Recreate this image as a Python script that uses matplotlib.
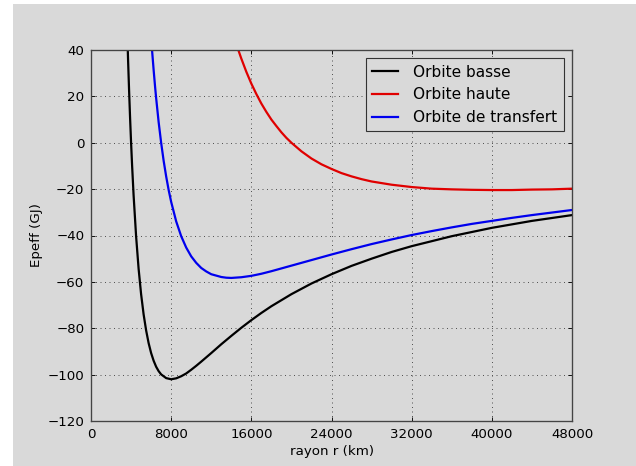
import matplotlib.pyplot as plt
from matplotlib.patches import Rectangle

# values (r in km, Epeff in GJ)
r_basse = [3600, 3700, 3800, 3900, 4000, 4100, 4250, 4500, 4750, 5000, 5250, 5500,
           5750, 6000, 6250, 6500, 6750, 7000, 7500, 8000, 8500, 9000, 9500, 10000,
           10500, 11000, 12000, 13000, 14000, 15000, 16000, 17000, 18000, 20000,
           22000, 24000, 26000, 28000, 30000, 32000, 36000, 40000, 44000, 48000]
e_basse = [50.4, 35.7, 22.6, 10.7, 0.0, -9.7, -22.6, -40.3, -54.3, -65.3, -74.0, -80.9,
           -86.4, -90.7, -94.0, -96.6, -98.5, -99.9, -101.5, -102.0, -101.6, -100.7, -99.5, -97.9,
           -96.2, -94.4, -90.7, -86.9, -83.3, -79.8, -76.5, -73.4, -70.5, -65.3,
           -60.7, -56.7, -53.1, -50.0, -47.1, -44.6, -40.3, -36.7, -33.7, -31.2]

r_haute = [14500, 14750, 15000, 15500, 16000, 16500, 17000, 17500, 18000, 18500, 19000,
           19500, 20000, 21000, 22000, 23000, 24000, 25000, 26000, 27000, 28000, 30000,
           32000, 34000, 36000, 38000, 40000, 42000, 44000, 46000, 48000]
e_haute = [42.7, 39.4, 36.3, 30.6, 25.5, 21.0, 16.9, 13.3, 10.0, 7.2, 4.5,
           2.1, 0.0, -3.7, -6.8, -9.3, -11.3, -13.1, -14.5, -15.7, -16.7, -18.1,
           -19.1, -19.8, -20.1, -20.3, -20.4, -20.4, -20.2, -20.1, -19.8]

r_transfert = [5900, 6000, 6100, 6250, 6400, 6500, 6750, 7000, 7250, 7500, 7750, 8000,
               8500, 9000, 9500, 10000, 10500, 11000, 11500, 12000, 13000, 13500, 14000,
               15000, 16000, 17000, 18000, 20000, 22000, 24000, 26000, 28000, 30000,
               32000, 34000, 36000, 38000, 40000, 42000, 44000, 46000, 48000]
e_transfert = [51.6, 45.3, 39.5, 31.4, 23.9, 19.3, 8.9, 0.0, -7.8, -14.5, -20.4, -25.5,
               -33.9, -40.3, -45.2, -49.0, -51.8, -54.0, -55.5, -56.7, -57.9, -58.2, -58.3,
               -58.0, -57.4, -56.5, -55.4, -53.0, -50.6, -48.2, -45.9, -43.7, -41.7,
               -39.8, -38.1, -36.5, -35.0, -33.7, -32.4, -31.2, -30.1, -29.0]

x_ticks = [0, 8000, 16000, 24000, 32000, 40000, 48000]
y_ticks = [-120, -100, -80, -60, -40, -20, 0, 20, 40]

bg = '#d9d9d9'
fig = plt.figure(figsize=(7.95, 5.825), dpi=80, facecolor=bg)
# white margin of the screenshot on the left and top
fig.patches.append(Rectangle((0, 0), 13 / 636, 1, transform=fig.transFigure,
                             facecolor='white', edgecolor='none', zorder=-1))
fig.patches.append(Rectangle((0, 1 - 4 / 466), 1, 4 / 466, transform=fig.transFigure,
                             facecolor='white', edgecolor='none', zorder=-1))

ax = fig.add_axes([91 / 636, 1 - 421 / 466, 481 / 636, 371 / 466], facecolor=bg)

ax.plot(r_basse, e_basse, color='k', linewidth=2, label='Orbite basse')
ax.plot(r_haute, e_haute, color='#e00000', linewidth=2, label='Orbite haute')
ax.plot(r_transfert, e_transfert, color='#0000ee', linewidth=2, label='Orbite de transfert')

ax.set_xlim(0, 48000)
ax.set_ylim(-120, 40)
ax.set_xticks(x_ticks)
ax.set_yticks(y_ticks)
ax.set_xlabel('rayon r (km)', fontsize=12)
ax.set_ylabel('Epeff (GJ)', fontsize=12)
ax.tick_params(direction='in', top=True, right=True, labelsize=12, length=4, pad=6)
ax.grid(True, color='#555555', linestyle=(0, (1, 3.5)), linewidth=0.9)
for s in ax.spines.values():
    s.set_color('#444444')
    s.set_linewidth(1.2)

leg = ax.legend(loc='upper right', fontsize=13.8, fancybox=False, framealpha=1,
                facecolor=bg, edgecolor='#333333', handlelength=1.7,
                borderaxespad=0.55, handletextpad=1.0)
leg.get_frame().set_linewidth(1.0)

fig.savefig('out.png', dpi=80, facecolor=bg)
